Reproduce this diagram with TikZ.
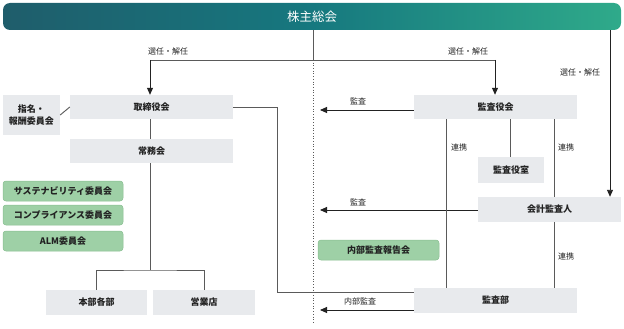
\documentclass[tikz,border=0pt]{standalone}
\usepackage{fontspec}
\setmainfont{Noto Sans CJK JP}
\usetikzlibrary{arrows.meta,calc}
\definecolor{barL}{HTML}{1F5D6B}
\definecolor{barM}{HTML}{16787F}
\definecolor{barR}{HTML}{2FAA8A}
\definecolor{boxgray}{HTML}{E8EAED}
\definecolor{boxgreen}{HTML}{9ED0A6}
\definecolor{greenline}{HTML}{88BE90}
\definecolor{linegray}{HTML}{5A5A5A}
\definecolor{txt}{HTML}{222222}
\tikzset{
  graybox/.style={fill=boxgray, draw=none, inner sep=0pt, align=center, text=txt, font=\fontsize{9}{12}\selectfont\bfseries},
  greenbox/.style={fill=boxgreen, draw=greenline, line width=0.5pt, rounded corners=3pt, inner sep=0pt, align=center, text=txt, font=\fontsize{9}{12}\selectfont\bfseries},
  conn/.style={draw=linegray, line width=0.9pt},
  arr/.style={conn, -{Triangle[width=6pt,length=7pt]}, color=txt},
  lbl/.style={font=\fontsize{8}{10}\selectfont, text=txt, inner sep=0pt}
}
\begin{document}
\begin{tikzpicture}[x=1pt,y=-1pt]
\useasboundingbox (0,0) rectangle (624,329);
% top bar
\shade[rounded corners=7pt, left color=barL, right color=barR, middle color=barM] (3,3) rectangle (621,30);
\node[font=\fontsize{12.5}{14}\selectfont, text=white, inner sep=0pt] (soukai) at (312,16.5) {株主総会};
\coordinate (barA) at (313,30);
\coordinate (barB) at (610,30);
% boxes
\node[graybox, minimum width=163pt, minimum height=24pt] (tori) at (151.5,107) {取締役会};
\node[graybox, minimum width=163pt, minimum height=24pt] (kansayakukai) at (495.5,107) {監査役会};
\node[graybox, minimum width=57pt, minimum height=40pt] (shimei) at (31.5,115) {指名・\\報酬委員会};
\node[graybox, minimum width=163pt, minimum height=24pt] (jomu) at (151.5,151) {常務会};
\node[graybox, minimum width=101pt, minimum height=25pt] (honbu) at (96.5,302.5) {本部各部};
\node[graybox, minimum width=102pt, minimum height=25pt] (eigyo) at (204,302.5) {営業店};
\node[graybox, minimum width=66pt, minimum height=26pt] (yakushitsu) at (511,170) {監査役室};
\node[graybox, minimum width=143pt, minimum height=25pt] (kaikei) at (549.5,209.5) {会計監査人};
\node[graybox, minimum width=163pt, minimum height=25pt] (kansabu) at (495.5,300.5) {監査部};
\node[greenbox, minimum width=120pt, minimum height=20pt] (sus) at (63,191) {サステナビリティ委員会};
\node[greenbox, minimum width=120pt, minimum height=20pt] (comp) at (63,215) {コンプライアンス委員会};
\node[greenbox, minimum width=120pt, minimum height=20pt] (alm) at (63,241) {ALM委員会};
\node[greenbox, minimum width=121pt, minimum height=20pt] (naibu) at (378.5,250) {内部監査報告会};
% coordinates
\coordinate (split) at (313,60);
\coordinate (bottomdot) at (313,324);
\coordinate (endA) at (320,110);
\coordinate (endB) at (320,210);
\coordinate (endC) at (320,310);
\coordinate (jb) at (150,270);
% dotted divider
\draw[linegray, line width=0.7pt, dotted] (split) -- (bottomdot);
% election lines
\draw[conn] (barA) -- (split);
\draw[conn] (150,60) -- (495,60);
\draw[arr] (150,60) -- (tori.north -| 150,0);
\draw[arr] (495,60) -- (kansayakukai.north -| 495,0);
\draw[arr] (barB) -- (kaikei.north -| 610,0);
\node[lbl] (l1) at (168,51) {選任・解任};
\node[lbl] (l2) at (468,51) {選任・解任};
\node[lbl] (l3) at (580,72) {選任・解任};
% left tree
\draw[conn] (shimei.east) -- (tori.west);
\draw[conn] (tori.south -| 150,0) -- (jomu.north -| 150,0);
\draw[conn] (jomu.south -| 150,0) -- (jb);
\draw[conn] (honbu.north -| 96,0) |- (jb) -| (eigyo.north -| 204,0);
\draw[conn] (tori.east) -- (277,107) |- (kansabu.west |- 0,292);
% audit arrows
\draw[arr] (kansayakukai.west |- endA) -- (endA);
\node[lbl] (a1) at (358,101) {監査};
\draw[arr] (kaikei.west |- endB) -- (endB);
\node[lbl] (a2) at (358,202) {監査};
\draw[arr] (kansabu.west |- endC) -- (endC);
\node[lbl] (a3) at (360,301) {内部監査};
% cooperation
\draw[conn] (kansayakukai.south -| 446,0) -- (kansabu.north -| 446,0);
\draw[conn] (kansayakukai.south -| 510,0) -- (yakushitsu.north -| 510,0);
\draw[conn] (kansayakukai.south -| 554,0) -- (kaikei.north -| 554,0);
\draw[conn] (kaikei.south -| 554,0) -- (kansabu.north -| 554,0);
\node[lbl] (r1) at (459,147) {連携};
\node[lbl] (r2) at (566,147) {連携};
\node[lbl] (r3) at (566,256) {連携};
\end{tikzpicture}
\end{document}
